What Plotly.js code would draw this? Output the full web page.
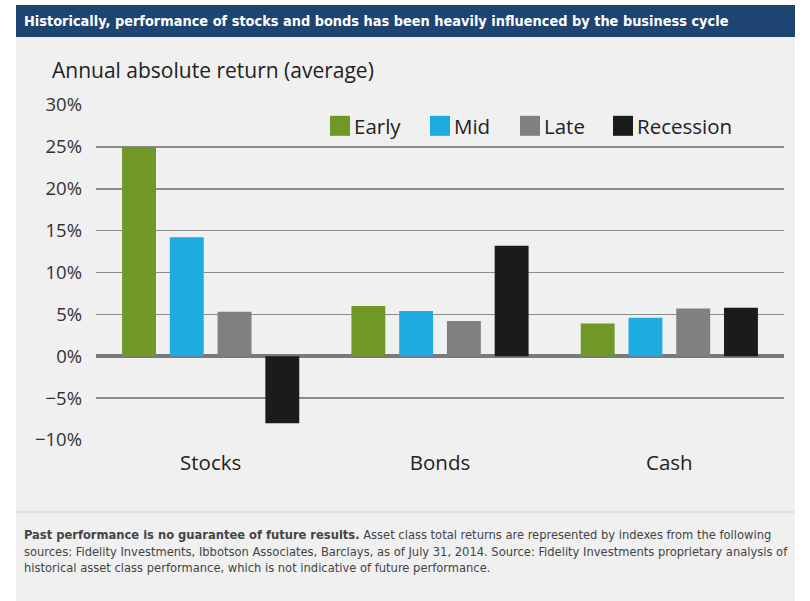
<!DOCTYPE html>
<html>
<head>
<meta charset="utf-8">
<script src="https://cdn.plot.ly/plotly-3.0.1.min.js"></script>
<style>
html,body{margin:0;padding:0;background:#fff;}
#chart{width:810px;height:601px;}
</style>
</head>
<body>
<div id="chart"></div>
<script>
const categories = ["Stocks", "Bonds", "Cash"];
const seriesNames = ["Early", "Mid", "Late", "Recession"];
const early = [25.0, 6.0, 3.9];
const mid = [14.2, 5.4, 4.6];
const late = [5.3, 4.2, 5.7];
const recession = [-8.0, 13.2, 5.8];
const seriesColors = ["#6f9826", "#1eabe2", "#808080", "#1b1b1b"];
const yTicks = [-10, -5, 0, 5, 10, 15, 20, 25, 30];

const titleText = "Historically, performance of stocks and bonds has been heavily influenced by the business cycle";
const yTitleText = "Annual absolute return (average)";
const footerText = "<b>Past performance is no guarantee of future results.</b> Asset class total returns are represented by indexes from the following<br>sources: Fidelity Investments, Ibbotson Associates, Barclays, as of July 31, 2014. Source: Fidelity Investments proprietary analysis of<br>historical asset class performance, which is not indicative of future performance.";

const allValues = [early, mid, late, recession];
const traces = allValues.map((vals, i) => ({
  type: "bar",
  name: seriesNames[i],
  x: categories,
  y: vals,
  marker: {color: seriesColors[i], line: {width: 0}},
  hoverinfo: "none"
}));

const W = 810, H = 601;
const L = 96, R = 26, T = 105, B = 161;
const pw = W - L - R, ph = H - T - B;
const px = v => (v - L) / pw;
const py = v => (H - B - v) / ph;

const condensed = "'DejaVu Sans Condensed', 'Liberation Sans Narrow', sans-serif";
const mainFont = "'Open Sans', Lato, sans-serif";

const layout = {
  width: W, height: H,
  margin: {l: L, r: R, t: T, b: B, pad: 0},
  paper_bgcolor: "#ffffff",
  plot_bgcolor: "rgba(0,0,0,0)",
  font: {family: mainFont, color: "#333333"},
  barmode: "group",
  bargap: 0.167,
  bargroupgap: 0.29,
  showlegend: true,
  legend: {
    orientation: "h",
    x: px(319), xanchor: "left",
    y: py(126), yanchor: "middle",
    font: {family: mainFont, size: 20.5, color: "#222222"},
    bgcolor: "rgba(0,0,0,0)",
    itemwidth: 30,
    tracegroupgap: 0
  },
  xaxis: {
    type: "category",
    showgrid: false,
    zeroline: false,
    showline: false,
    ticks: "",
    tickfont: {family: mainFont, size: 20.5, color: "#222222"},
    ticklabelstandoff: 8,
    fixedrange: true
  },
  yaxis: {
    range: [-10, 30],
    tickmode: "array",
    tickvals: yTicks,
    ticktext: yTicks.map(v => (v < 0 ? "\u2212" + Math.abs(v) : String(v)) + "%"),
    showgrid: true,
    gridcolor: "#8c8c8c",
    gridwidth: 1.5,
    zeroline: true,
    zerolinecolor: "#7a7a7a",
    zerolinewidth: 4,
    showline: false,
    ticks: "",
    tickfont: {family: mainFont, size: 18.5, color: "#333333"},
    ticklabelstandoff: 13,
    fixedrange: true
  },
  shapes: [
    {type: "rect", xref: "paper", yref: "paper", layer: "below",
     x0: px(16), x1: px(795), y0: py(601), y1: py(37),
     fillcolor: "#f0f0f0", line: {width: 0}},
    {type: "rect", xref: "paper", yref: "paper", layer: "below",
     x0: px(16), x1: px(795), y0: py(37), y1: py(5),
     fillcolor: "#1e4471", line: {width: 0}},
    {type: "line", xref: "paper", yref: "paper", layer: "below",
     x0: px(16), x1: px(795), y0: py(512), y1: py(512),
     line: {color: "#cfcfcf", width: 1}}
  ],
  annotations: [
    {text: "<b>" + titleText + "</b>", xref: "paper", yref: "paper",
     x: px(22), y: py(21), xanchor: "left", yanchor: "middle", showarrow: false,
     font: {family: condensed, size: 14.4, color: "#ffffff"}},
    {text: yTitleText, xref: "paper", yref: "paper",
     x: px(50), y: py(70), xanchor: "left", yanchor: "middle", showarrow: false,
     font: {family: mainFont, size: 21, color: "#222222"}},
    {text: footerText, xref: "paper", yref: "paper",
     x: px(22), y: py(551), xanchor: "left", yanchor: "middle", showarrow: false,
     align: "left",
     font: {family: condensed, size: 12.8, color: "#444444"}}
  ]
};

const legendSquareLeft = [330, 430, 520, 613];

Plotly.newPlot("chart", traces, layout, {displayModeBar: false, staticPlot: true}).then(() => {
  document.querySelectorAll(".legend [clip-path]").forEach(el => el.removeAttribute("clip-path"));
  const items = document.querySelectorAll(".legend .traces");
  items.forEach((g, i) => {
    const path = g.querySelector(".legendpoints path");
    path.setAttribute("d", "M10,10H-10V-10H10Z");
    const m = /translate\(([-\d.]+)[ ,]+([-\d.]+)\)/.exec(g.getAttribute("transform") || "");
    let tx = m ? parseFloat(m[1]) : 0, ty = m ? parseFloat(m[2]) : 0;
    const left = path.getBoundingClientRect().left;
    tx += legendSquareLeft[i] - left;
    g.setAttribute("transform", "translate(" + tx + "," + ty + ")");
    const txt = g.querySelector("text.legendtext");
    const tLeft = txt.getBoundingClientRect().left;
    const want = legendSquareLeft[i] + 24;
    txt.setAttribute("x", parseFloat(txt.getAttribute("x") || 0) + (want - tLeft));
  });
});
</script>
</body>
</html>
